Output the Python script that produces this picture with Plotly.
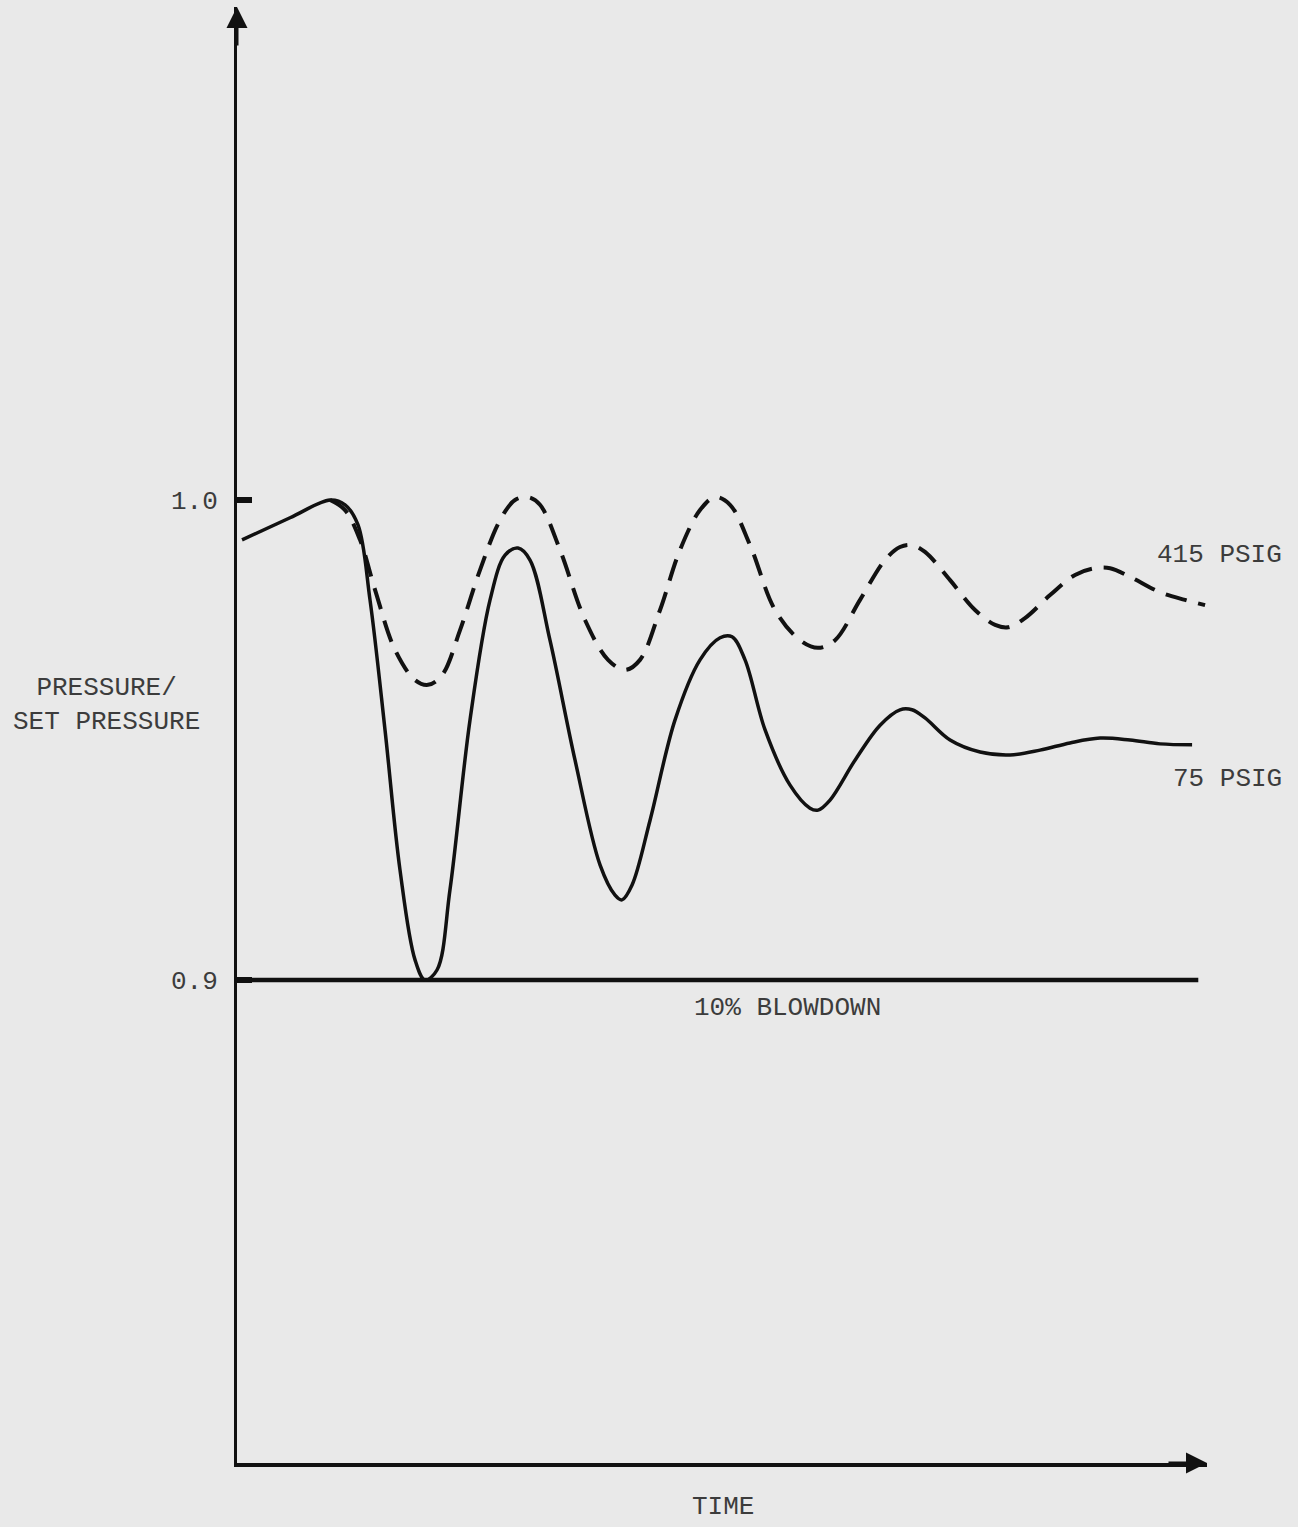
import plotly.graph_objects as go

# ---- data (time in arbitrary units 0..100, pressure / set pressure) ----
t_75 = [0.52, 5.48, 9.61, 11.16, 12.5, 13.74, 15.29, 16.84, 18.39, 19.42, 20.66, 22.0,
        24.07, 26.14, 27.69, 29.03, 30.27, 32.33, 34.92, 37.5, 39.05, 39.77, 40.81, 42.67,
        45.25, 47.83, 49.9, 51.14, 52.48, 54.55, 57.13, 59.19, 60.02, 61.26, 63.84, 66.43,
        68.49, 69.73, 71.07, 73.66, 76.76, 79.86, 82.95, 86.05, 89.15, 92.25, 95.35, 98.66]
p_75 = [0.9917, 0.9963, 1.0, 0.999, 0.9948, 0.9792, 0.9521, 0.9229, 0.9042, 0.9, 0.9021, 0.9188,
        0.9542, 0.9792, 0.9885, 0.99, 0.9875, 0.9708, 0.9458, 0.924, 0.9177, 0.9167, 0.9198, 0.9333,
        0.9542, 0.9667, 0.9713, 0.9715, 0.9667, 0.9521, 0.9406, 0.9358, 0.9354, 0.9375, 0.9458, 0.9531,
        0.9563, 0.9563, 0.9546, 0.95, 0.9475, 0.9469, 0.9479, 0.9494, 0.9504, 0.95, 0.9492, 0.949]

t_415 = [9.61, 11.16, 12.71, 14.26, 16.32, 18.39, 19.73, 21.18, 23.04, 25.1, 27.17, 28.72,
         30.06, 31.3, 33.37, 35.95, 38.33, 40.08, 41.63, 43.7, 45.76, 47.83, 49.38, 50.93,
         53.0, 55.58, 58.16, 60.02, 61.78, 64.36, 66.94, 68.49, 69.73, 71.07, 73.66, 76.24,
         78.31, 79.65, 81.4, 83.99, 86.57, 88.64, 90.19, 92.25, 95.35, 97.93, 100.0]
p_415 = [1.0, 0.9979, 0.9917, 0.9813, 0.9688, 0.9625, 0.9615, 0.9635, 0.9729, 0.9854, 0.9958, 1.0,
         1.0006, 0.999, 0.9896, 0.975, 0.9667, 0.9646, 0.9667, 0.9771, 0.9896, 0.9979, 1.0006, 0.999,
         0.9906, 0.9771, 0.9708, 0.9692, 0.9708, 0.9792, 0.9875, 0.9902, 0.9906, 0.9892, 0.9833, 0.9771,
         0.974, 0.9735, 0.9754, 0.9802, 0.9844, 0.9858, 0.9858, 0.984, 0.9808, 0.9792, 0.9781]

blowdown_t = [0.0, 99.3]
blowdown_p = [0.9, 0.9]

tick_vals = [0.9, 1.0]
tick_text = ["0.9", "1.0"]

FONT = "Liberation Mono"
TXT = "#3c3c3c"
BG = "#e9e9e9"

fig = go.Figure()
fig.add_trace(go.Scatter(x=blowdown_t, y=blowdown_p, mode="lines",
                         line=dict(color="#111111", width=4.5), showlegend=False))
fig.add_trace(go.Scatter(x=t_415, y=p_415, mode="lines", line_shape="spline",
                         line=dict(color="#111111", width=4, dash="22px,12px"), showlegend=False))
fig.add_trace(go.Scatter(x=t_75, y=p_75, mode="lines", line_shape="spline",
                         line=dict(color="#111111", width=3.5), showlegend=False))

fig.update_layout(
    width=1298, height=1527,
    margin=dict(l=237, r=91, t=7, b=64),
    paper_bgcolor=BG, plot_bgcolor=BG,
    font=dict(family=FONT, size=26, color=TXT),
    xaxis=dict(range=[0, 100.2], showgrid=False, zeroline=False, showticklabels=False,
               ticks="", showline=True, linecolor="#111111", linewidth=4),
    yaxis=dict(range=[0.7994, 1.1027], showgrid=False, zeroline=False,
               tickvals=tick_vals, ticktext=tick_text, ticks="inside", ticklen=15,
               tickwidth=6, tickcolor="#111111", ticklabelstandoff=11,
               tickfont=dict(family=FONT, size=26, color=TXT),
               showline=True, linecolor="#111111", linewidth=3),
)

# axis arrowheads
fig.add_annotation(x=0, y=1.0, xref="paper", yref="paper", ax=0, ay=40,
                   showarrow=True, arrowhead=2, arrowsize=1.4, arrowwidth=3,
                   arrowcolor="#111111", text="")
fig.add_annotation(x=1.0, y=0, xref="paper", yref="paper", ax=-40, ay=0,
                   showarrow=True, arrowhead=2, arrowsize=1.4, arrowwidth=3,
                   arrowcolor="#111111", text="")

# labels
fig.add_annotation(x=-0.135, y=0.9573, xref="paper", yref="y", showarrow=False,
                   xanchor="center", yanchor="middle",
                   text="PRESSURE/<br>SET PRESSURE", align="center")
fig.add_annotation(x=1.0134, y=0.9885, xref="paper", yref="y", showarrow=False,
                   xanchor="center", yanchor="middle", text="415 PSIG")
fig.add_annotation(x=1.0216, y=0.9419, xref="paper", yref="y", showarrow=False,
                   xanchor="center", yanchor="middle", text="75 PSIG")
fig.add_annotation(x=0.568, y=0.8942, xref="paper", yref="y", showarrow=False,
                   xanchor="center", yanchor="middle", text="10% BLOWDOWN")
fig.add_annotation(x=0.501, y=-0.0302, xref="paper", yref="paper", showarrow=False,
                   xanchor="center", yanchor="middle", text="TIME")

fig.write_html("out.html", config={"displayModeBar": False},
               post_script="document.body.style.margin='0';"
                           "document.body.style.background='#e9e9e9';")
